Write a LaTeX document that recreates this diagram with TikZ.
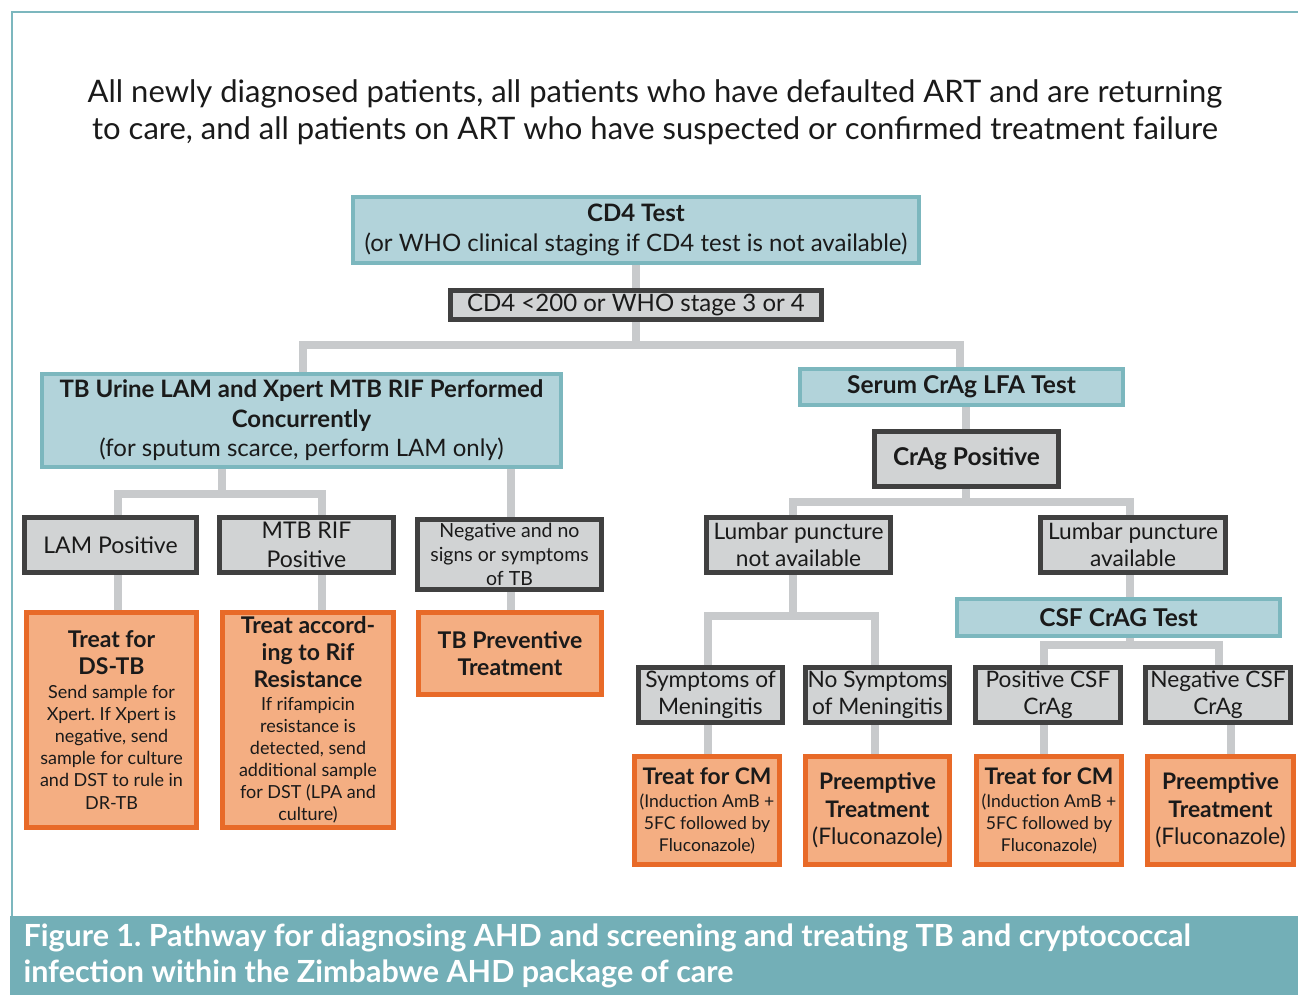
\documentclass[tikz,border=0pt]{standalone}
\usepackage{fontspec}
\setmainfont{Lato}
\usetikzlibrary{backgrounds}
\frenchspacing
\definecolor{tealfill}{RGB}{178,211,218}
\definecolor{tealline}{RGB}{124,183,190}
\definecolor{grayfill}{RGB}{209,211,212}
\definecolor{grayline}{RGB}{64,64,64}
\definecolor{orfill}{RGB}{244,174,130}
\definecolor{orline}{RGB}{232,106,40}
\definecolor{conn}{RGB}{200,202,204}
\definecolor{band}{RGB}{115,175,183}
\definecolor{ink}{RGB}{26,26,26}
\newcommand{\fs}[2]{\fontsize{#1}{#2}\selectfont}
\tikzset{
  box/.style={inner sep=0pt, align=center, text=ink},
  tealbox/.style={box, fill=tealfill, draw=tealline, line width=3.5pt},
  graybox/.style={box, fill=grayfill, draw=grayline, line width=5pt},
  orbox/.style={box, fill=orfill, draw=orline, line width=5pt},
  link/.style={draw=conn, line width=8pt},
  sz/.style 2 args={minimum width=#1pt, minimum height=#2pt},
}
\begin{document}
\begin{tikzpicture}[x=1pt,y=-1pt]
\useasboundingbox (0,0) rectangle (1298,995);
% frame
\draw[tealline, line width=2.5pt] (12,917) -- (12,12) -- (1300,12);
\fill[band] (10,916) rectangle (1298,995);
\node[text=white, align=left, anchor=west, font=\bfseries\fs{30.5}{36.5}] (cap) at (20,956)
  {Figure 1. Pathway for diagnosing AHD and screening and treating TB and cryptococcal\\infection within the Zimbabwe AHD package of care};
% title
\node[text=ink, align=center, font=\fs{31}{36.5}] (title) at (655,112)
  {All newly diagnosed patients, all patients who have defaulted ART and are returning\\to care, and all patients on ART who have suspected or confirmed treatment failure};

% boxes
\node[tealbox, sz={566}{66}, font=\fs{24}{30}] (cd4) at (636,230)
  {\textbf{CD4 Test}\\(or WHO clinical staging if CD4 test is not available)};
\node[graybox, sz={371}{29}, font=\fs{24}{28}] (cd4c) at (636,305) {CD4 <200 or WHO stage 3 or 4};
\node[tealbox, sz={519}{93}, font=\fs{24}{29.5}] (tb) at (301.5,420.5)
  {\textbf{TB Urine LAM and Xpert MTB RIF Performed}\\\textbf{Concurrently}\\(for sputum scarce, perform LAM only)};
\node[tealbox, sz={323}{36}, font=\bfseries\fs{24.5}{28}] (serum) at (961.5,387) {Serum CrAg LFA Test};
\node[graybox, sz={184}{55}, font=\bfseries\fs{24.5}{28}] (crag) at (966.5,459) {CrAg Positive};

\node[graybox, sz={172}{55}, font=\fs{23}{28}] (lam) at (110.5,545) {LAM Positive};
\node[graybox, sz={174}{55}, font=\fs{23}{29}] (mtb) at (306.5,545) {MTB RIF\\Positive};
\node[graybox, sz={184}{70}, font=\fs{19.5}{24}] (neg) at (509.5,554) {Negative and no\\signs or symptoms\\of TB};
\node[graybox, sz={184}{55}, font=\fs{22.7}{27}] (lpna) at (798.5,545) {Lumbar puncture\\not available};
\node[graybox, sz={185}{55}, font=\fs{22.7}{27}] (lpa) at (1133,545) {Lumbar puncture\\available};
\node[tealbox, sz={323}{37}, font=\bfseries\fs{24.5}{28}] (csf) at (1118.5,617.5) {CSF CrAG Test};

\node[graybox, sz={144}{55}, font=\fs{22.7}{27}] (sym) at (710.5,695) {Symptoms of\\Meningitis};
\node[graybox, sz={144}{55}, font=\fs{22.7}{27}] (nosym) at (877.5,695) {No Symptoms\\of Meningitis};
\node[graybox, sz={145}{55}, font=\fs{22.7}{27}] (poscsf) at (1048,695) {Positive CSF\\CrAg};
\node[graybox, sz={145}{55}, font=\fs{22.7}{27}] (negcsf) at (1218,695) {Negative CSF\\CrAg};

\node[orbox, sz={170}{215}, font=\fs{18}{22.2}] (ds) at (111.5,720)
  {{\bfseries\fs{23}{27}Treat for}\\[5pt]{\bfseries\fs{23}{27}DS-TB}\\[1pt]Send sample for\\Xpert. If Xpert is\\negative, send\\sample for culture\\and DST to rule in\\DR-TB};
\node[orbox, sz={171}{215}, font=\fs{18}{22}] (rif) at (308,720)
  {{\bfseries\fs{23}{27}Treat accord-}\\[5pt]{\bfseries\fs{23}{27}ing to Rif}\\[5pt]{\bfseries\fs{23}{27}Resistance}\\[1pt]If rifampicin\\resistance is\\detected, send\\additional sample\\for DST (LPA and\\culture)};
\node[orbox, sz={183}{82}, font=\bfseries\fs{23}{27}] (tpt) at (510,653.5) {TB Preventive\\Treatment};
\node[orbox, sz={145}{108}, font=\fs{17.6}{22}] (cm1) at (707,810.5)
  {{\bfseries\fs{22.8}{27}Treat for CM}\\[1pt](Induction AmB +\\5FC followed by\\Fluconazole)};
\node[orbox, sz={144}{108}, font=\fs{22.8}{27.5}] (pre1) at (877.5,810.5)
  {\textbf{Preemptive}\\\textbf{Treatment}\\(Fluconazole)};
\node[orbox, sz={145}{108}, font=\fs{17.6}{22}] (cm2) at (1049,810.5)
  {{\bfseries\fs{22.8}{27}Treat for CM}\\[1pt](Induction AmB +\\5FC followed by\\Fluconazole)};
\node[orbox, sz={146}{108}, font=\fs{22.8}{27.5}] (pre2) at (1220.5,810.5)
  {\textbf{Preemptive}\\\textbf{Treatment}\\(Fluconazole)};

% junctions
\coordinate (jA) at (636,345);
\coordinate (jAl) at (303,345);
\coordinate (jAr) at (960,345);
\coordinate (jB) at (222,494);
\coordinate (jBl) at (118,494);
\coordinate (jBr) at (322,494);
\coordinate (jN) at (511,494);
\coordinate (jC) at (966,502);
\coordinate (jCl) at (793,502);
\coordinate (jCr) at (1130,502);
\coordinate (jD) at (793,616);
\coordinate (jDl) at (708,616);
\coordinate (jDr) at (875,616);
\coordinate (jE) at (1130,645);
\coordinate (jEl) at (1044,645);
\coordinate (jEr) at (1219,645);
\coordinate (jF) at (1231,740);

\begin{pgfonlayer}{background}
\draw[link] (cd4) -- (cd4c);
\draw[link] (cd4c) -- (jA);
\draw[link] (jAl |- tb.north) -- (jAl) -- (jAr) -- (jAr |- serum.north);
\draw[link] (jB |- tb.south) -- (jB);
\draw[link] (jBl |- lam.north) -- (jBl) -- (jBr) -- (jBr |- mtb.north);
\draw[link] (jBl |- lam.south) -- (jBl |- ds.north);
\draw[link] (jBr |- mtb.south) -- (jBr |- rif.north);
\draw[link] (jN |- tb.south) -- (jN |- neg.north);
\draw[link] (jN |- neg.south) -- (jN |- tpt.north);
\draw[link] (jC |- serum.south) -- (jC |- crag.north);
\draw[link] (jC |- crag.south) -- (jC);
\draw[link] (jCl |- lpna.north) -- (jCl) -- (jCr) -- (jCr |- lpa.north);
\draw[link] (jD |- lpna.south) -- (jD);
\draw[link] (jDl |- sym.north) -- (jDl) -- (jDr) -- (jDr |- nosym.north);
\draw[link] (jCr |- lpa.south) -- (jCr |- csf.north);
\draw[link] (jE |- csf.south) -- (jE);
\draw[link] (jEl |- poscsf.north) -- (jEl) -- (jEr) -- (jEr |- negcsf.north);
\draw[link] (jDl |- sym.south) -- (jDl |- cm1.north);
\draw[link] (jDr |- nosym.south) -- (jDr |- pre1.north);
\draw[link] (jEl |- poscsf.south) -- (jEl |- cm2.north);
\draw[link] (jF |- negcsf.south) -- (jF |- pre2.north);
\end{pgfonlayer}
\end{tikzpicture}
\end{document}
